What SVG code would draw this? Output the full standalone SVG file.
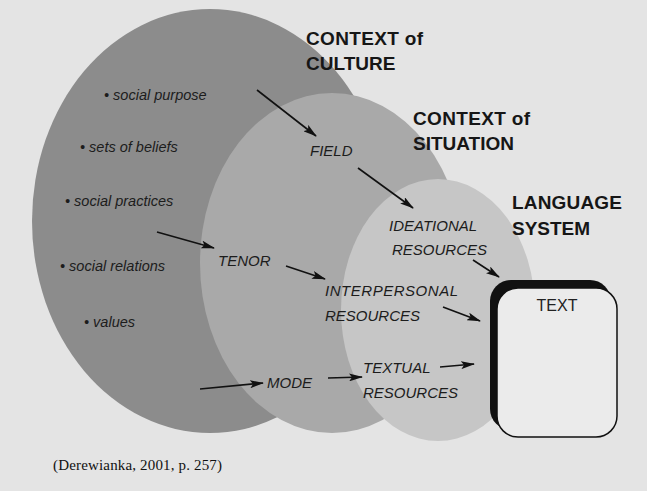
<svg xmlns="http://www.w3.org/2000/svg" width="647" height="491" viewBox="0 0 647 491">
<style>
.title{font-family:"Liberation Sans",Arial,sans-serif;font-weight:bold;font-size:19px;fill:#161616}
.lbl{font-family:"Liberation Sans",Arial,sans-serif;font-style:italic;font-size:15px;fill:#1c1c1c}
.bul{font-family:"Liberation Sans",Arial,sans-serif;font-style:italic;font-size:14.5px;fill:#1c1c1c}
.conn line{stroke:#111;stroke-width:1.6;marker-end:url(#ah)}
</style>
<defs>
<marker id="ah" viewBox="0 0 14 8" refX="13" refY="4" markerWidth="14" markerHeight="8" markerUnits="userSpaceOnUse" orient="auto">
<path d="M0,0 L14,4 L0,8 L3,4 z" fill="#111"/>
</marker>
</defs>
<rect width="647" height="491" fill="#e4e4e4"/>
<g id="culture">
<ellipse cx="210" cy="221" rx="178" ry="212" fill="#8c8c8c"/>
<text class="title" x="306" y="45" textLength="117">CONTEXT of</text>
<text class="title" x="306" y="70">CULTURE</text>
<text class="bul" x="104" y="100">• social purpose</text>
<text class="bul" x="80" y="152">• sets of beliefs</text>
<text class="bul" x="65" y="206">• social practices</text>
<text class="bul" x="60" y="271">• social relations</text>
<text class="bul" x="84" y="327">• values</text>
</g>
<g id="situation">
<ellipse cx="332" cy="263" rx="132" ry="170" fill="#a9a9a9"/>
<text class="title" x="413" y="125" textLength="117">CONTEXT of</text>
<text class="title" x="413" y="150">SITUATION</text>
<text class="lbl" x="310" y="156">FIELD</text>
<text class="lbl" x="218" y="266">TENOR</text>
<text class="lbl" x="267" y="388">MODE</text>
</g>
<g id="language">
<ellipse cx="438" cy="310" rx="97" ry="131" fill="#c6c6c6"/>
<text class="title" x="512" y="209" textLength="110">LANGUAGE</text>
<text class="title" x="512" y="235">SYSTEM</text>
<text class="lbl" x="389" y="231">IDEATIONAL</text>
<text class="lbl" x="392" y="255">RESOURCES</text>
<text class="lbl" x="325" y="296" textLength="133">INTERPERSONAL</text>
<text class="lbl" x="325" y="321">RESOURCES</text>
<text class="lbl" x="363" y="373">TEXTUAL</text>
<text class="lbl" x="363" y="398">RESOURCES</text>
</g>
<g id="text-box">
<rect x="490" y="280" width="121" height="150" rx="21" fill="#111"/>
<rect x="497" y="288" width="120" height="149" rx="21" fill="#ebebeb" stroke="#111" stroke-width="1.5"/>
<text x="557" y="311" text-anchor="middle" font-family="'Liberation Sans',Arial,sans-serif" font-size="16" fill="#222">TEXT</text>
</g>
<g id="connectors" class="conn">
<line x1="257" y1="90" x2="316" y2="136"/>
<line x1="358" y1="168" x2="413" y2="208"/>
<line x1="473" y1="260" x2="499" y2="277"/>
<line x1="157" y1="232" x2="214" y2="248"/>
<line x1="286" y1="266" x2="325" y2="279"/>
<line x1="443" y1="307" x2="480" y2="321"/>
<line x1="200" y1="389" x2="263" y2="383"/>
<line x1="328" y1="378" x2="362" y2="377"/>
<line x1="440" y1="367" x2="474" y2="364"/>
</g>
<text id="citation" x="53" y="470" font-family="'Liberation Serif','Times New Roman',serif" font-size="15" fill="#111" textLength="169">(Derewianka, 2001, p. 257)</text>
</svg>
